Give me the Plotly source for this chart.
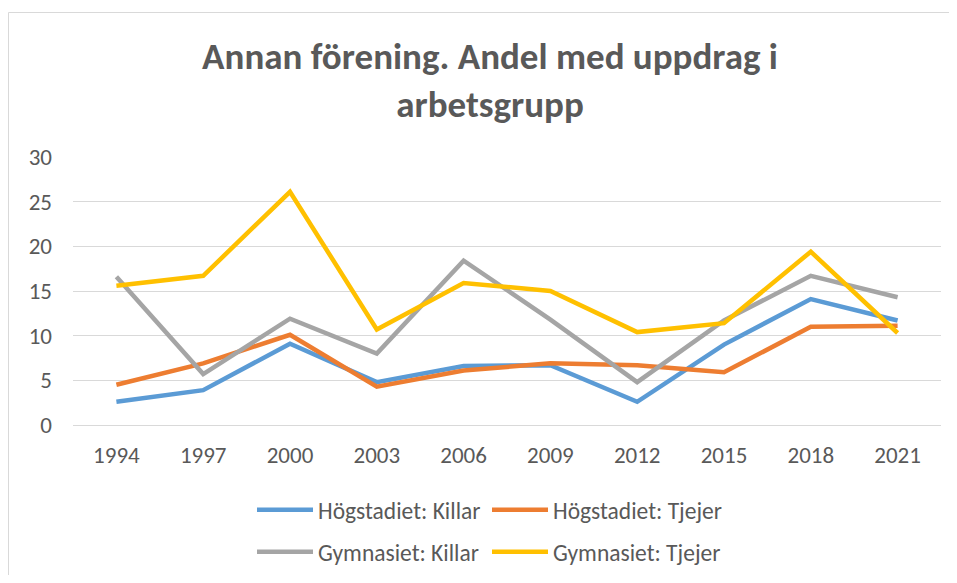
import plotly.graph_objects as go

years = ["1994", "1997", "2000", "2003", "2006", "2009", "2012", "2015", "2018", "2021"]
hog_killar = [2.6, 3.9, 9.1, 4.8, 6.6, 6.7, 2.6, 9.0, 14.1, 11.7]
hog_tjejer = [4.5, 6.9, 10.1, 4.3, 6.1, 6.9, 6.7, 5.9, 11.0, 11.1]
gym_killar = [16.6, 5.7, 11.9, 8.0, 18.4, 11.8, 4.8, 11.7, 16.7, 14.3]
gym_tjejer = [15.6, 16.7, 26.1, 10.7, 15.9, 15.0, 10.4, 11.4, 19.4, 10.3]

series = [
    ("Högstadiet: Killar", hog_killar, "#5B9BD5", "legend"),
    ("Högstadiet: Tjejer", hog_tjejer, "#ED7D31", "legend"),
    ("Gymnasiet: Killar", gym_killar, "#A5A5A5", "legend2"),
    ("Gymnasiet: Tjejer", gym_tjejer, "#FFC000", "legend2"),
]

# the page adds an 8px body margin, so work in page coords and shift by OFF
OFF = 8
W, H = 957 - 2 * OFF, 583 - 2 * OFF
L, R, T, B = 73 - OFF, 941 - OFF, 157 - OFF, 425 - OFF
pw, ph = R - L, B - T

def px2x(px):
    return (px - OFF - L) / pw

def py2y(py):
    return (B - (py - OFF)) / ph

fig = go.Figure()
for name, vals, color, lg in series:
    fig.add_trace(go.Scatter(x=years, y=vals, name=name, mode="lines",
                             line=dict(color=color, width=4.5), legend=lg))

font_fam = "Carlito, Lato, 'Liberation Sans', sans-serif"
txt = "#595959"

legend_common = dict(orientation="h", xanchor="left", yanchor="middle",
                     font=dict(family=font_fam, size=23.5, color=txt),
                     entrywidth=164, bgcolor="rgba(0,0,0,0)", tracegroupgap=0,
                     itemwidth=56)

fig.update_layout(
    width=W, height=H,
    margin=dict(l=L, r=W - R, t=T, b=H - B, autoexpand=False),
    paper_bgcolor="white", plot_bgcolor="white",
    title=dict(text="<b>Annan förening. Andel med uppdrag i<br>arbetsgrupp</b>",
               x=(490 - OFF) / W, xanchor="center", xref="container",
               y=1 - (69 - OFF) / H, yanchor="middle", yref="container",
               font=dict(family=font_fam, size=37, color=txt)),
    xaxis=dict(type="category", range=[-0.5, 9.5], showgrid=False,
               showline=True, linecolor="#D9D9D9", linewidth=1,
               ticks="", ticklabelstandoff=9,
               tickfont=dict(family=font_fam, size=23, color=txt),
               fixedrange=True),
    yaxis=dict(range=[0, 30], dtick=5, showgrid=True, gridcolor="#D9D9D9",
               gridwidth=1, zeroline=False, showline=False, ticks="",
               ticklabelstandoff=20,
               tickfont=dict(family=font_fam, size=23, color=txt),
               fixedrange=True),
    legend=dict(x=px2x(252), y=py2y(510), **legend_common),
    legend2=dict(x=px2x(252), y=py2y(552), **legend_common),
    showlegend=True,
    shapes=[dict(type="rect", xref="paper", yref="paper",
                 x0=px2x(8.5), x1=px2x(990), y0=py2y(620), y1=py2y(12.5),
                 line=dict(color="#D9D9D9", width=1), fillcolor="rgba(0,0,0,0)",
                 layer="below")],
)

fig.write_html("out.html")
